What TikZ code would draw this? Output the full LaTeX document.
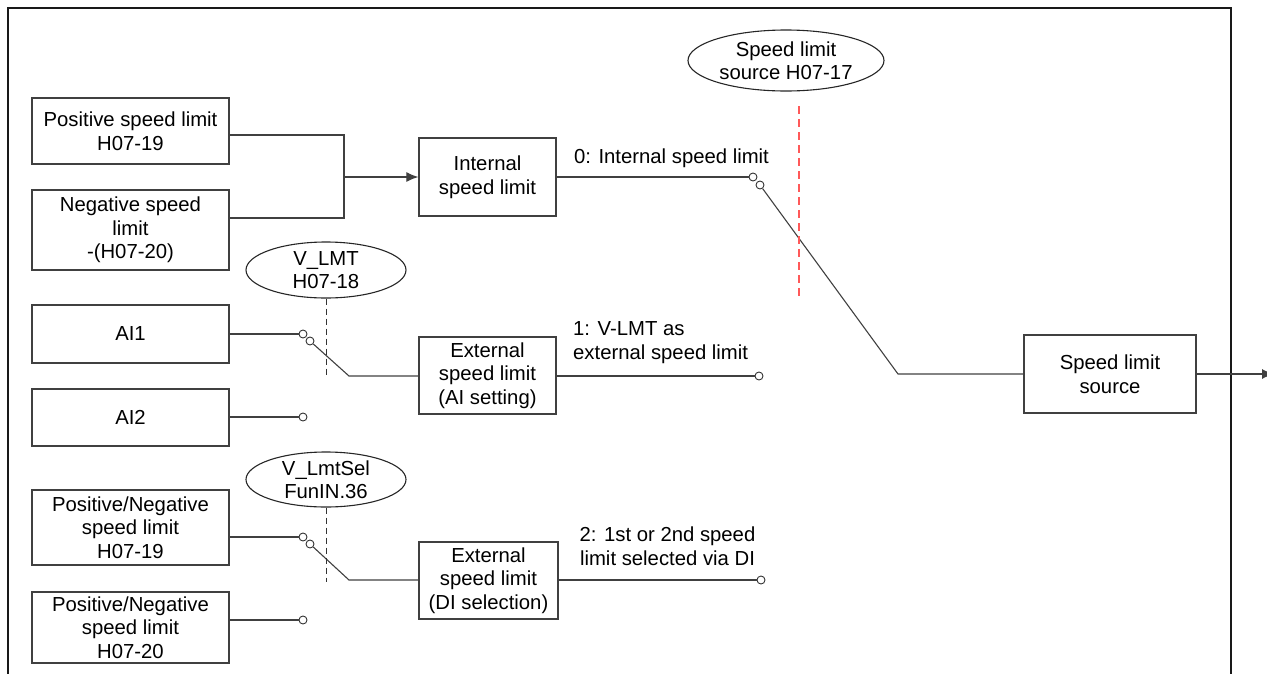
\documentclass[tikz,border=0pt]{standalone}
\usepackage{fontspec}
\setmainfont{Liberation Sans}
\usetikzlibrary{shapes.geometric,arrows.meta}
\begin{document}
\begin{tikzpicture}[x=1pt,y=-1pt,
  every node/.style={font=\fontsize{20.3}{23.5}\selectfont},
  box/.style={draw=black!75, line width=1.3pt, inner sep=0pt, align=center},
  ell/.style={ellipse, draw=black!85, line width=1.1pt, inner sep=0pt},
  wire/.style={draw=black!75, line width=1.1pt},
  sw/.style={circle, draw=black!80, line width=0.9pt, fill=white, minimum size=8pt, inner sep=0pt},
  lbl/.style={inner sep=0pt, align=center},
  selline/.style={draw=black!80, line width=0.9pt, dash pattern=on 6pt off 4pt},
  redline/.style={draw=red!65, line width=1.3pt, dash pattern=on 8pt off 5pt},
  frame/.style={draw=black!90, line width=2.6pt},
  arr/.style={-{Latex[length=12pt,width=10pt]}},
]
\useasboundingbox (0,0) rectangle (1267,673);

% frame
\coordinate (fbl) at (8,675);
\coordinate (ftl) at (8,8);
\coordinate (ftr) at (1231,8);
\coordinate (fbr) at (1231,675);
\draw[frame] (fbl) -- (ftl) -- (ftr) -- (fbr);

% left boxes
\node[box, minimum width=197pt, minimum height=66pt] (p19) at (130.5,131) {Positive speed limit\\H07-19};
\node[box, minimum width=197pt, minimum height=80pt] (n20) at (130.5,230) {Negative speed\\limit\\-(H07-20)};
\node[box, minimum width=197pt, minimum height=58pt] (ai1) at (130.5,334) {AI1};
\node[box, minimum width=197pt, minimum height=57pt] (ai2) at (130.5,417.5) {AI2};
\node[box, minimum width=197pt, minimum height=75pt] (pn19) at (130.5,527.5) {Positive/Negative\\speed limit\\H07-19};
\node[box, minimum width=197pt, minimum height=71pt] (pn20) at (130.5,627.5) {Positive/Negative\\speed limit\\H07-20};

% middle boxes
\node[box, minimum width=137pt, minimum height=78pt] (int) at (487.5,177) {Internal\\speed limit};
\node[box, minimum width=137pt, minimum height=77pt] (extai) at (487.5,375.5) {External\\speed limit\\(AI setting)};
\node[box, minimum width=139pt, minimum height=77pt] (extdi) at (488.5,580.5) {External\\speed limit\\(DI selection)};
\node[box, minimum width=172pt, minimum height=78pt] (src) at (1110,374) {Speed limit\\source};

% ellipses
\node[ell, minimum width=196pt, minimum height=61pt] (spd) at (786,60.5) {};
\node[lbl] at (spd) {Speed limit\\source H07-17};
\node[ell, minimum width=160pt, minimum height=56pt] (vlmt) at (326,270) {};
\node[lbl] at (vlmt) {V\_LMT\\H07-18};
\node[ell, minimum width=160pt, minimum height=55pt] (vsel) at (326,479.5) {};
\node[lbl] at (vsel) {V\_LmtSel\\FunIN.36};

% switch contacts
\node[sw] (s0a) at (753,177) {};
\node[sw] (s0b) at (760,185) {};
\node[sw] (s1a) at (303,334) {};
\node[sw] (s1b) at (310,341) {};
\node[sw] (s2)  at (303,417) {};
\node[sw] (s3a) at (303,537) {};
\node[sw] (s3b) at (310,544) {};
\node[sw] (s4)  at (303,620) {};
\node[sw] (t1)  at (759,376) {};
\node[sw] (t2)  at (761,580) {};

% helper coordinates
\coordinate (y135) at (0,135);
\coordinate (y218) at (0,218);
\coordinate (y537) at (0,537);
\coordinate (j) at (344,177);
\coordinate (k0) at (898,374);
\coordinate (k1) at (349,376);
\coordinate (k3) at (349,580);
\coordinate (out) at (1274,374);

% connectors
\draw[wire] (p19.east |- y135) -| (j);
\draw[wire] (n20.east |- y218) -| (j);
\draw[wire, arr] (j) -- (int.west);
\draw[wire] (int.east) -- (s0a);
\draw[wire] (s0b) -- (k0) -- (src.west);
\draw[wire, arr] (src.east) -- (out);

\draw[wire] (ai1.east) -- (s1a);
\draw[wire] (s1b) -- (k1) -- (extai.west |- k1);
\draw[wire] (extai.east |- t1) -- (t1);
\draw[wire] (ai2.east |- s2) -- (s2);

\draw[wire] (pn19.east |- y537) -- (s3a);
\draw[wire] (s3b) -- (k3) -- (extdi.west |- k3);
\draw[wire] (extdi.east |- t2) -- (t2);
\draw[wire] (pn20.east |- s4) -- (s4);

% selector lines
\coordinate (d1) at (326,375);
\coordinate (d2) at (326,582);
\draw[selline] (vlmt.south) -- (d1);
\draw[selline] (vsel.south) -- (d2);
\coordinate (r1) at (799,106);
\coordinate (r2) at (799,297);
\draw[redline] (r1) -- (r2);

% labels (base anchor = baseline of last line)
\node[lbl, anchor=base] (l0) at (671.5,163) {0: Internal speed limit};
\node[lbl, anchor=base west, align=left] (l1) at (573,359) {1: V-LMT as\\external speed limit};
\node[lbl, anchor=base] (l2) at (667.5,565) {2: 1st or 2nd speed\\limit selected via DI};
\end{tikzpicture}
\end{document}
